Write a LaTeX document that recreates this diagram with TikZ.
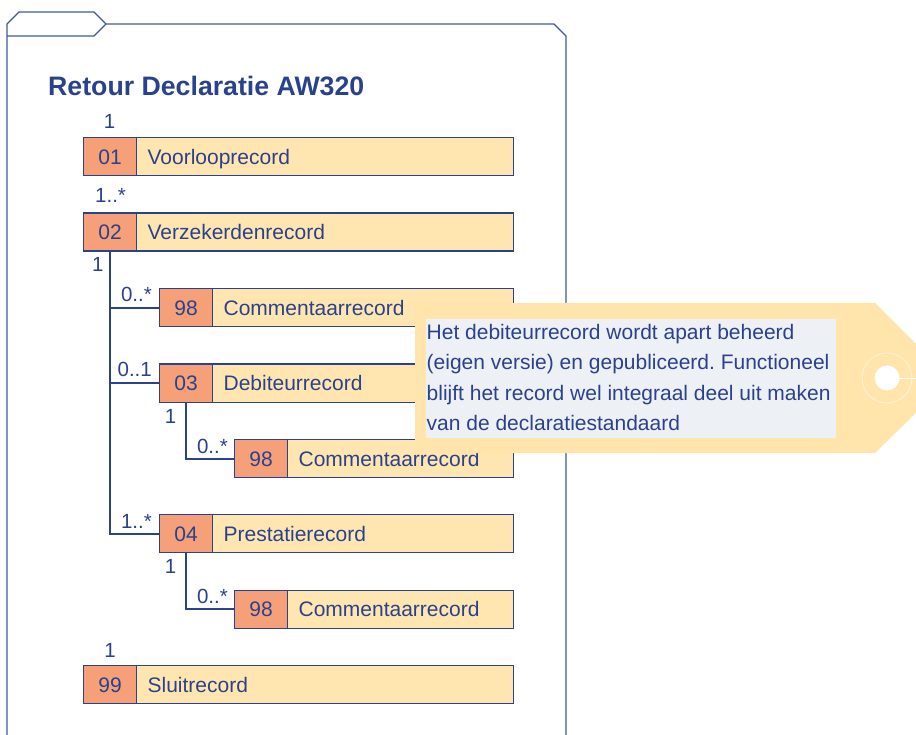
\documentclass[tikz,border=0pt]{standalone}
\usepackage{fontspec}
\setmainfont{Liberation Sans}
\frenchspacing
\definecolor{navy}{RGB}{42,66,140}
\definecolor{framec}{RGB}{60,90,155}
\definecolor{codefill}{RGB}{245,160,120}
\definecolor{recfill}{RGB}{255,229,176}
\definecolor{tagfill}{RGB}{255,228,172}
\definecolor{notebg}{RGB}{237,240,245}
\tikzset{
  frameline/.style={draw=framec, line width=1.2pt},
  codebox/.style={draw=navy, fill=codefill, line width=1.2pt, anchor=north west,
    minimum width=53pt, minimum height=38pt, inner sep=0pt, text height=15pt, text depth=0pt,
    text=navy, font=\fontsize{21}{25}\selectfont},
  recbox/.style={draw=navy, fill=recfill, line width=1.2pt, anchor=north west,
    minimum width=#1, minimum height=38pt, inner xsep=11pt, inner ysep=0pt,
    text width=#1-22pt, align=left, text height=15pt, text depth=0pt,
    text=navy, font=\fontsize{21}{25}\selectfont},
  conn/.style={draw=navy, line width=1.9pt},
  mult/.style={text=navy, inner sep=0pt, font=\fontsize{20.5}{25}\selectfont},
  notetext/.style={text=navy, inner sep=0pt, anchor=base west, font=\fontsize{21}{30}\selectfont},
}
\begin{document}
\begin{tikzpicture}[x=1pt,y=-1pt]
\useasboundingbox (0,0) rectangle (916,735);
% folder frame
\draw[frameline] (7,735) -- (7,24) -- (19,12) -- (94,12) -- (106,24) -- (554,24) -- (566,36) -- (566,735);
\draw[frameline] (7,36) -- (94,36) -- (106,24);
% title
\node[anchor=base west, inner sep=0pt, text=navy, font=\fontsize{26.7}{30}\selectfont\bfseries] (title) at (48,96) {Retour Declaratie AW320};
% records
\node[codebox] (c01) at (83,137) {01};
\node[recbox=377pt] (r01) at (136,137) {Voorlooprecord};
\node[codebox] (c02) at (83,212.5) {02};
\node[recbox=377pt] (r02) at (136,212.5) {Verzekerdenrecord};
\node[codebox] (c98a) at (159,288) {98};
\node[recbox=301pt] (r98a) at (212,288) {Commentaarrecord};
\node[codebox] (c03) at (159,363.5) {03};
\node[recbox=301pt] (r03) at (212,363.5) {Debiteurrecord};
\node[codebox] (c98b) at (234,439) {98};
\node[recbox=226pt] (r98b) at (287,439) {Commentaarrecord};
\node[codebox] (c04) at (159,514) {04};
\node[recbox=301pt] (r04) at (212,514) {Prestatierecord};
\node[codebox] (c98c) at (234,589.5) {98};
\node[recbox=226pt] (r98c) at (287,589.5) {Commentaarrecord};
\node[codebox] (c99) at (83,665) {99};
\node[recbox=377pt] (r99) at (136,665) {Sluitrecord};
% connectors
\draw[conn] (c02.south) |- (c04.west);
\draw[conn] (c02.south |- c98a.west) -- (c98a.west);
\draw[conn] (c02.south |- c03.west) -- (c03.west);
\draw[conn] (c03.south) |- (c98b.west);
\draw[conn] (c04.south) |- (c98c.west);
% multiplicities
\node[mult, anchor=base] (m01) at (109.5,129) {1};
\node[mult, anchor=base west] (m02) at (95,203) {1..*};
\node[mult, anchor=base west] (m02b) at (92,272) {1};
\node[mult, anchor=base east] (m98a) at (152,302) {0..*};
\node[mult, anchor=base east] (m03) at (152,377) {0..1};
\node[mult, anchor=base] (m03b) at (170.5,423) {1};
\node[mult, anchor=base east] (m98b) at (228,453) {0..*};
\node[mult, anchor=base east] (m04) at (152,528) {1..*};
\node[mult, anchor=base] (m04b) at (170.5,573) {1};
\node[mult, anchor=base east] (m98c) at (228,603) {0..*};
\node[mult, anchor=base] (m99) at (110,657) {1};
% tag note
\fill[tagfill] (415,303) -- (875,303) -- (916,344) -- (916,413) -- (875,453) -- (415,453) -- cycle;
\draw[white!55!tagfill, line width=0.8pt] (887,378) circle (25);
\fill[white] (887,378) circle (12.5);
\draw[white, line width=0.9pt] (899,378) -- (916,378);
\node[fill=notebg, anchor=north west, minimum width=410pt, minimum height=119pt, inner sep=0pt] (notebox) at (426,319) {};
\node[notetext] (n1) at (426.5,340) {Het debiteurrecord wordt apart beheerd};
\node[notetext] (n2) at (426.5,370) {(eigen versie) en gepubliceerd. Functioneel};
\node[notetext] (n3) at (426.5,400) {blijft het record wel integraal deel uit maken};
\node[notetext] (n4) at (426.5,430) {van de declaratiestandaard};
\end{tikzpicture}
\end{document}
